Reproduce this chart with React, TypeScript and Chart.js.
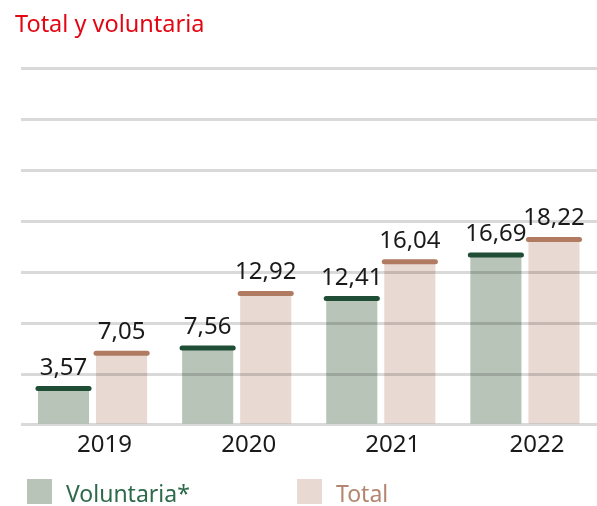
import React, { useEffect, useRef } from "react";
import { Chart, registerables } from "chart.js";

Chart.register(...registerables);

// ---- data ----
const years = ["2019", "2020", "2021", "2022"];
const voluntaria = [3.57, 7.56, 12.41, 16.69];
const total = [7.05, 12.92, 16.04, 18.22];
const seriesNames = ["Voluntaria*", "Total"];
const titleText = "Total y voluntaria";
const axisMin = 0;
const axisMax = 35;
const axisStep = 5;

// ---- styles ----
const FONT = "'Noto Sans', sans-serif";
const barFill = ["#b9c4b9", "#e8d9d2"];
const capColor = ["#1f4d35", "#b07b61"];
const legendTextColor = ["#2d6a4a", "#b3866f"];
const textColor = "#1a1a1a";
const titleColor = "#e30613";

const fmt = (v: number) => v.toFixed(2).replace(".", ",");

const overlayPlugin = {
  id: "overlay",
  afterDraw(chart: any) {
    const ctx = chart.ctx;
    ctx.save();
    // caps + value labels
    chart.data.datasets.forEach((ds: any, di: number) => {
      const meta = chart.getDatasetMeta(di);
      meta.data.forEach((el: any, i: number) => {
        const { x, y, width } = el.getProps(["x", "y", "width"], true);
        ctx.beginPath();
        ctx.lineCap = "round";
        ctx.lineWidth = 5;
        ctx.strokeStyle = capColor[di];
        ctx.moveTo(x - width / 2, y);
        ctx.lineTo(x + width / 2, y);
        ctx.stroke();
        ctx.font = `24px ${FONT}`;
        ctx.fillStyle = textColor;
        ctx.textAlign = "center";
        ctx.textBaseline = "alphabetic";
        ctx.fillText(fmt(ds.data[i]), x, y - 14);
      });
    });
    // legend
    const area = chart.chartArea;
    const top = chart.height - 27;
    const starts = [area.left + 6.5, area.left + 276.5];
    chart.data.datasets.forEach((ds: any, di: number) => {
      const lx = starts[di];
      ctx.fillStyle = barFill[di];
      ctx.fillRect(lx, top, 25, 25);
      ctx.font = `23px ${FONT}`;
      ctx.fillStyle = legendTextColor[di];
      ctx.textAlign = "left";
      ctx.textBaseline = "alphabetic";
      ctx.fillText(ds.label, lx + 39, top + 23);
    });
    ctx.restore();
  },
};

export default function App() {
  const ref = useRef<HTMLCanvasElement | null>(null);
  useEffect(() => {
    if (!ref.current) return;
    const chart = new Chart(ref.current, {
      type: "bar",
      data: {
        labels: years,
        datasets: [
          {
            label: seriesNames[0],
            data: voluntaria,
            backgroundColor: barFill[0],
            categoryPercentage: 0.806,
            barPercentage: 0.88,
          },
          {
            label: seriesNames[1],
            data: total,
            backgroundColor: barFill[1],
            categoryPercentage: 0.806,
            barPercentage: 0.88,
          },
        ],
      },
      options: {
        responsive: false,
        animation: false,
        layout: { padding: { left: 15, right: 0, top: 0, bottom: 49.3 } },
        plugins: {
          legend: { display: false },
          tooltip: { enabled: false },
          title: {
            display: true,
            text: titleText,
            align: "start",
            color: titleColor,
            font: { family: FONT, size: 23.5, weight: "normal" },
            padding: { top: 11, bottom: 29.5 },
          },
        },
        scales: {
          x: {
            grid: { display: false },
            border: { display: false },
            ticks: {
              color: textColor,
              font: { family: FONT, size: 24 },
              padding: -2.5,
              labelOffset: 12,
              maxRotation: 0,
            },
          },
          y: {
            min: axisMin,
            max: axisMax,
            border: { display: false },
            grid: {
              color: "rgba(0,0,0,0.15)",
              lineWidth: 3,
              drawTicks: false,
              z: 1,
            },
            ticks: { display: false, stepSize: axisStep },
            afterFit(scale: any) {
              scale.width = 5.5;
            },
          },
        },
      },
      plugins: [overlayPlugin],
    });
    return () => chart.destroy();
  }, []);
  return (
    <div style={{ position: "fixed", left: 0, top: 0, width: 597, height: 506, background: "#fff" }}>
      <canvas ref={ref} width={597} height={506} style={{ display: "block" }} />
    </div>
  );
}
